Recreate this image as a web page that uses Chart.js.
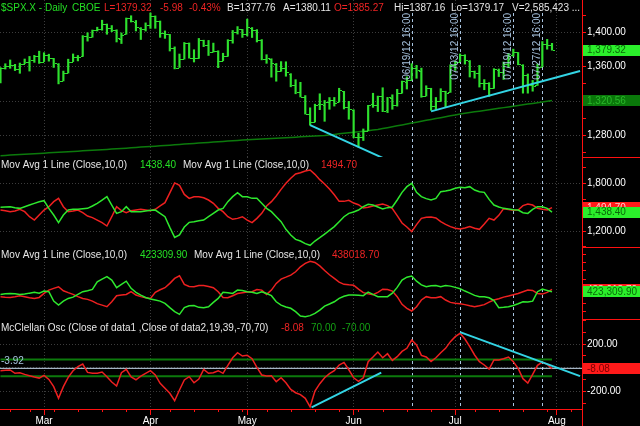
<!DOCTYPE html>
<html>
<head>
<meta charset="utf-8">
<script src="https://cdn.jsdelivr.net/npm/chart.js@4.4.1/dist/chart.umd.min.js"></script>
<style>
  html, body { margin: 0; padding: 0; background: #000; }
  #wrap { position: relative; width: 640px; height: 426px; background: #000; overflow: hidden; }
  .pane { position: absolute; left: 0; width: 640px; }
</style>
</head>
<body>
<div id="wrap">
  <div class="pane" style="top:0;height:157px"><canvas id="pricePane"></canvas></div>
  <div class="pane" style="top:157px;height:90px"><canvas id="issuesPane"></canvas></div>
  <div class="pane" style="top:247px;height:72px"><canvas id="volumePane"></canvas></div>
  <div class="pane" style="top:319px;height:107px"><canvas id="oscPane"></canvas></div>
</div>
<script>
// trading days shown (2012)
const dates = ['02/16','02/17','02/21','02/22','02/23','02/24','02/27','02/28','02/29',
  '03/01','03/02','03/05','03/06','03/07','03/08','03/09','03/12','03/13','03/14','03/15','03/16','03/19','03/20','03/21','03/22','03/23','03/26','03/27','03/28','03/29','03/30',
  '04/02','04/03','04/04','04/05','04/09','04/10','04/11','04/12','04/13','04/16','04/17','04/18','04/19','04/20','04/23','04/24','04/25','04/26','04/27','04/30',
  '05/01','05/02','05/03','05/04','05/07','05/08','05/09','05/10','05/11','05/14','05/15','05/16','05/17','05/18','05/21','05/22','05/23','05/24','05/25','05/29','05/30','05/31',
  '06/01','06/04','06/05','06/06','06/07','06/08','06/11','06/12','06/13','06/14','06/15','06/18','06/19','06/20','06/21','06/22','06/25','06/26','06/27','06/28','06/29',
  '07/02','07/03','07/05','07/06','07/09','07/10','07/11','07/12','07/13','07/16','07/17','07/18','07/19','07/20','07/23','07/24','07/25','07/26','07/27','07/30','07/31'];

const monthLabels = ['Mar', 'Apr', 'May', 'Jun', 'Jul', 'Aug'];
const monthTickIdx = [9, 31, 51, 73, 94, 115];
const weekTickIdx = [2, 6, 11, 16, 21, 26, 35, 40, 45, 50, 55, 60, 65, 70, 74, 79, 84, 89, 98, 103, 108, 113, 118];

const markerDates = ['06/19', '07/03', '07/19', '07/27'];
const markerLabels = ['06/19/12 16:00', '07/03/12 16:00', '07/19/12 16:00', '07/27/12 16:00'];

// $SPX.X daily bars
const opens = [1342.6,1358.1,1361.2,1362.1,1357.5,1363.5,1365.2,1367.6,1372.2,1365.9,
  1374.1,1369.6,1363.6,1343.4,1352.6,1365.9,1370.8,1371.9,1395.9,1394.2,
  1402.6,1404.2,1409.6,1405.5,1402.9,1392.3,1397.7,1416.6,1412.5,1405.4,
  1403.3,1408.5,1418.9,1413.1,1398.8,1397.5,1382.2,1359.0,1368.8,1387.6,
  1370.3,1369.6,1390.8,1385.1,1376.9,1378.5,1366.9,1372.1,1390.6,1400.2,
  1403.3,1397.9,1405.5,1402.3,1391.5,1368.8,1369.2,1363.2,1354.6,1358.1,
  1351.9,1338.4,1330.8,1324.8,1305.1,1295.7,1316.1,1316.0,1318.7,1320.8,
  1318.9,1331.3,1313.1,1309.9,1278.3,1277.8,1285.6,1316.2,1315.0,1325.7,
  1309.4,1324.0,1314.9,1329.2,1342.4,1344.8,1358.0,1355.4,1325.9,1334.9,
  1314.1,1320.1,1331.5,1330.1,1362.3,1365.8,1373.7,1367.1,1354.7,1353.0,
  1341.4,1341.4,1334.8,1356.5,1353.7,1363.5,1373.0,1376.5,1362.3,1350.5,
  1338.4,1338.2,1360.1,1385.9,1385.27];
const highs = [1359.0,1363.4,1367.8,1362.7,1364.2,1368.9,1371.9,1373.1,1378.0,1376.2,
  1374.5,1369.6,1363.6,1354.9,1368.7,1374.8,1373.0,1396.1,1399.4,1402.6,
  1405.9,1414.0,1409.6,1407.8,1402.9,1399.2,1416.6,1419.2,1413.7,1405.4,
  1410.9,1422.4,1419.0,1413.1,1401.6,1397.5,1383.0,1374.7,1388.1,1387.6,
  1379.7,1392.8,1390.8,1390.5,1387.4,1378.5,1375.6,1391.4,1402.1,1406.6,
  1403.3,1415.3,1405.5,1403.1,1391.5,1373.9,1369.2,1363.7,1365.9,1365.7,
  1351.9,1344.9,1341.8,1326.4,1312.2,1316.4,1328.5,1320.7,1324.1,1324.2,
  1334.9,1331.3,1319.7,1309.9,1282.6,1287.6,1315.1,1329.1,1325.8,1335.5,
  1324.3,1327.3,1333.7,1343.3,1348.2,1363.5,1361.6,1358.3,1337.8,1334.9,
  1324.2,1334.4,1331.5,1362.2,1366.4,1374.8,1373.9,1367.1,1354.9,1361.5,
  1345.0,1341.4,1357.7,1357.3,1365.4,1375.3,1380.4,1376.5,1362.3,1351.5,
  1344.0,1363.1,1389.2,1391.7,1387.16];
const lows = [1341.2,1357.2,1358.1,1355.5,1352.3,1363.5,1354.9,1365.0,1363.8,1365.9,
  1366.4,1359.1,1340.0,1343.4,1352.6,1365.9,1366.7,1371.9,1389.7,1394.2,
  1401.5,1402.4,1397.7,1400.6,1388.7,1386.9,1397.7,1411.9,1401.5,1391.6,
  1401.4,1404.5,1404.6,1394.1,1392.9,1378.2,1357.4,1359.0,1368.8,1369.9,
  1365.4,1369.6,1383.3,1373.0,1376.9,1358.8,1366.8,1372.1,1387.3,1397.9,
  1394.0,1395.7,1393.9,1388.7,1367.9,1363.9,1347.8,1343.1,1354.6,1348.9,
  1336.6,1328.5,1324.8,1304.9,1292.0,1295.7,1310.0,1296.5,1310.5,1314.2,
  1318.9,1310.8,1298.9,1277.3,1266.7,1274.2,1285.6,1312.7,1307.8,1307.7,
  1306.6,1310.5,1314.1,1329.2,1334.0,1344.8,1346.5,1324.4,1325.9,1309.3,
  1310.3,1320.1,1313.3,1330.1,1355.7,1365.8,1363.0,1348.0,1346.6,1336.3,
  1333.2,1325.4,1334.8,1348.5,1345.1,1359.0,1372.1,1362.2,1329.2,1329.2,
  1331.5,1338.2,1360.1,1380.3,1379.17];
const closes = [1358.04,1361.23,1362.21,1357.66,1363.46,1365.74,1367.59,1372.18,1365.68,1374.09,
  1369.63,1364.33,1343.36,1352.63,1365.91,1370.87,1371.09,1395.95,1394.28,1402.60,
  1404.17,1409.75,1405.52,1402.89,1392.78,1397.11,1416.51,1412.52,1405.54,1403.28,
  1408.47,1419.04,1413.38,1398.96,1398.08,1382.20,1358.59,1368.71,1387.57,1370.26,
  1369.57,1390.78,1385.14,1376.92,1378.53,1366.94,1371.97,1390.69,1399.98,1403.36,
  1397.91,1405.82,1402.31,1391.57,1369.10,1369.58,1363.72,1354.58,1357.99,1353.39,
  1338.35,1330.66,1324.80,1304.86,1295.22,1315.99,1316.63,1318.86,1320.68,1317.82,
  1332.42,1313.32,1310.33,1278.04,1278.18,1285.50,1315.13,1314.99,1325.66,1308.93,
  1324.18,1314.88,1329.10,1342.84,1344.78,1357.98,1355.69,1325.51,1335.02,1313.72,
  1319.99,1331.85,1329.04,1362.16,1365.51,1374.02,1367.58,1354.68,1352.46,1341.47,
  1341.45,1334.76,1356.78,1353.64,1363.67,1372.78,1376.51,1362.66,1350.52,1338.31,
  1337.89,1360.02,1385.97,1385.30,1379.32];
const quote = { bid: 1377.76, ask: 1380.11, volume: '2,585,423' };

// long moving average on the price pane
const longAvg = [1256.5,1256.8,1257.2,1257.5,1257.8,1258.2,1258.5,1258.8,1259.2,1259.5,
  1259.8,1260.2,1260.5,1260.8,1261.2,1261.5,1261.8,1262.2,1262.5,1262.8,
  1263.2,1263.5,1263.8,1264.2,1264.5,1264.9,1265.3,1265.7,1266.1,1266.5,
  1266.8,1267.2,1267.6,1268.0,1268.4,1268.8,1269.2,1269.6,1270.0,1270.4,
  1270.8,1271.2,1271.5,1271.9,1272.3,1272.7,1273.1,1273.5,1273.9,1274.3,
  1274.7,1275.0,1275.3,1275.6,1275.9,1276.2,1276.6,1276.9,1277.2,1277.5,
  1277.8,1278.1,1278.4,1278.8,1279.1,1279.4,1279.7,1280.0,1280.6,1281.2,
  1281.9,1282.5,1283.1,1283.7,1284.4,1285.0,1285.6,1286.3,1287.0,1288.0,
  1289.1,1290.1,1291.2,1292.3,1293.3,1294.4,1295.4,1296.5,1297.6,1298.6,
  1299.7,1300.7,1301.8,1302.9,1303.9,1305.0,1305.8,1306.6,1307.5,1308.3,
  1309.1,1309.9,1310.7,1311.6,1312.4,1313.2,1314.0,1314.8,1315.6,1316.5,
  1317.3,1318.1,1318.9,1319.7,1320.56];

// trend lines drawn on the chart: [bar index, value]
const priceTrendA = [[64, 1292], [79, 1254]];
const priceTrendB = [[89, 1308], [119.8, 1355]];
const oscTrendA = [[64.3, -332], [78.7, -41]];
const oscTrendB = [[95, 300], [119.8, -70]];

// Mov Avg 1 Line (Close,10,0) - issues
const issuesUp = [1498,1502,1506,1494,1485,1506,1527,1548,1569,1582,
  1485,1401,1305,1401,1464,1473,1473,1481,1485,1515,
  1548,1590,1632,1527,1422,1443,1506,1443,1443,1443,
  1452,1460,1464,1422,1380,1246,1120,1150,1250,1309,
  1317,1330,1338,1380,1422,1464,1485,1569,1632,1682,
  1632,1632,1611,1611,1548,1485,1443,1380,1317,1221,
  1150,1095,1074,1041,1020,1074,1116,1162,1208,1255,
  1317,1380,1422,1439,1464,1506,1536,1527,1502,1477,
  1494,1502,1590,1686,1758,1800,1686,1632,1607,1590,
  1611,1695,1703,1716,1737,1749,1745,1758,1716,1695,
  1686,1598,1527,1502,1485,1477,1468,1464,1431,1422,
  1473,1506,1506,1485,1438.40];
const issuesDown = [1464,1456,1443,1452,1473,1443,1380,1338,1401,1464,
  1506,1569,1611,1506,1443,1452,1464,1431,1389,1368,
  1338,1305,1263,1380,1506,1456,1431,1456,1464,1473,
  1464,1456,1473,1515,1557,1680,1805,1775,1660,1611,
  1632,1632,1619,1590,1548,1485,1443,1380,1347,1359,
  1380,1338,1305,1359,1422,1515,1569,1640,1724,1800,
  1863,1917,1934,1955,1967,1913,1846,1791,1728,1657,
  1573,1573,1586,1552,1531,1489,1498,1515,1527,1540,
  1519,1481,1393,1301,1250,1192,1280,1359,1372,1376,
  1364,1317,1284,1255,1234,1225,1238,1255,1234,1221,
  1288,1359,1338,1397,1481,1469,1460,1464,1519,1540,
  1527,1485,1473,1464,1494.70];

// Mov Avg 1 Line (Close,10,0) - volume, in thousands
const volumeUpK = [406,410,412,410,406,408,414,419,414,427,
  423,364,339,364,381,389,406,423,429,437,
  485,502,517,496,448,469,489,444,419,402,
  387,377,371,364,350,323,298,281,323,335,
  337,325,323,329,356,381,419,417,412,433,
  431,423,419,412,423,412,398,360,339,327,
  319,298,271,266,273,287,308,333,346,360,
  381,394,402,402,400,398,421,406,392,392,
  392,414,450,496,514,521,489,466,454,460,
  462,454,462,458,450,442,427,414,400,392,
  392,385,368,323,325,329,337,348,360,358,
  364,423,439,431,423.3099];
const volumeDownK = [392,389,387,392,398,392,385,381,387,412,
  433,444,454,429,417,406,392,381,375,364,
  348,339,329,360,398,402,406,423,402,392,
  385,381,419,435,448,475,506,523,469,456,
  454,462,462,456,448,423,387,385,398,412,
  417,421,423,437,433,406,433,475,502,514,
  527,548,579,600,614,606,585,556,529,506,
  483,469,466,464,439,417,410,404,419,439,
  437,427,392,344,319,302,329,371,392,385,
  385,392,371,356,350,348,342,335,329,335,
  342,358,371,379,389,396,404,412,423,433,
  431,412,408,419,438.0187];

// McClellan Osc (Close of data1 ,Close of data2,19,39,-70,70)
const mcclellan = [-24,-21,-18,-46,-41,-55,-66,-77,-86,-63,
  -97,-158,-256,-158,-80,-24,10,32,-38,-46,
  -46,-35,-74,-119,-153,-41,-13,-77,-100,-69,
  -46,-24,-60,-130,-172,-214,-276,-186,-102,-74,
  -125,-94,-13,-46,-41,-24,-46,21,85,127,
  99,105,77,4,-60,-69,-66,-116,-83,-125,
  -181,-209,-225,-256,-327,-195,-133,-83,-49,-24,
  24,46,-16,-83,-114,-83,52,91,133,85,
  119,63,94,138,164,234,192,105,91,54,
  85,127,164,220,262,290,242,178,108,52,
  24,-10,66,66,77,91,52,-4,-91,-128,
  -55,21,49,29,-8.08];
const oscBands = [70, -70];
const oscRefLine = -3.92;

// tick labels shown on the right axes
const priceTicks = [1400, 1360, 1320, 1280];
const issuesTicks = [1800, 1200];
const volumeTicksK = [500, 350];
const oscTicks = [200, 0, -200];

const BAR = '#2ee02e', GREEN = '#2ee82e', RED = '#ee2020', DKGREEN = '#0c7a0c';
const CYAN = '#33d4e4', MARK = '#a8c4e0', AXIS_RED = '#ff1010', GRID = '#3c3c3c';
const TXT_G = '#25e025', TXT_R = '#ee2424', TXT_W = '#e6e6e6';
const X_MIN = -0.1, X_MAX = 120.2;

Chart.defaults.font.family = "'Liberation Sans', Arial, sans-serif";
Chart.defaults.font.size = 10;
Chart.defaults.color = '#ffffff';

const money = v => v.toLocaleString('en-US', { minimumFractionDigits: 2, maximumFractionDigits: 2 });
const series = arr => arr.map((v, i) => ({ x: i, y: v }));
const segment = pairs => pairs.map(p => ({ x: p[0], y: p[1] }));
const lineSet = (data, color, width) => ({ data, borderColor: color, borderWidth: width, pointRadius: 0, tension: 0, fill: false });

// everything the library has no element for: markers, bar ticks, value boxes, headers
const overlay = {
  id: 'overlay',
  beforeDatasetsDraw(chart, args, o) {
    const { ctx, chartArea: a } = chart, xs = chart.scales.x;
    ctx.save();
    ctx.strokeStyle = MARK;
    ctx.lineWidth = 1;
    ctx.setLineDash([3, 3]);
    markerDates.forEach(d => {
      const px = Math.round(xs.getPixelForValue(dates.indexOf(d))) + 0.5;
      ctx.beginPath();
      ctx.moveTo(px, a.top + (o.markTop || 0));
      ctx.lineTo(px, a.bottom);
      ctx.stroke();
    });
    ctx.restore();
  },
  afterDatasetsDraw(chart, args, o) {
    if (!o.ohlc) return;
    const { ctx } = chart, xs = chart.scales.x, ys = chart.scales.y;
    ctx.save();
    ctx.strokeStyle = BAR;
    ctx.lineWidth = 1;
    closes.forEach((c, i) => {
      const px = Math.round(xs.getPixelForValue(i));
      const yo = Math.round(ys.getPixelForValue(opens[i])) + 0.5;
      const yc = Math.round(ys.getPixelForValue(c)) + 0.5;
      ctx.beginPath();
      ctx.moveTo(px - 2, yo); ctx.lineTo(px, yo);
      ctx.moveTo(px + 1, yc); ctx.lineTo(px + 3, yc);
      ctx.stroke();
    });
    ctx.restore();
  },
  afterDraw(chart, args, o) {
    const { ctx, chartArea: a, width, height } = chart;
    const xs = chart.scales.x, ys = chart.scales.y;
    ctx.save();
    ctx.strokeStyle = AXIS_RED;
    ctx.lineWidth = 1;
    if (o.sepTop) {
      ctx.beginPath(); ctx.moveTo(a.right, 0.5); ctx.lineTo(width, 0.5); ctx.stroke();
    }
    if (o.weekTicks) {
      ctx.beginPath();
      weekTickIdx.forEach(i => {
        const px = Math.round(xs.getPixelForValue(i)) + 0.5;
        ctx.moveTo(px, a.bottom); ctx.lineTo(px, a.bottom + 3);
      });
      const rx = Math.round(a.right) + 0.5;
      ctx.moveTo(rx, a.bottom); ctx.lineTo(rx, height);
      ctx.stroke();
    }
    ctx.font = "10px 'Liberation Sans', Arial, sans-serif";
    ctx.textAlign = 'left';
    (o.boxes || []).forEach(b => {
      const y = ys.getPixelForValue(b.value);
      ctx.fillStyle = b.bg;
      ctx.fillRect(Math.round(a.right) + 1, Math.round(y - 5.5), width - a.right, 11);
      ctx.fillStyle = b.fg;
      ctx.textBaseline = 'middle';
      ctx.fillText(money(b.value * (o.unit || 1)), a.right + 5, y + 0.5);
    });
    ctx.textBaseline = 'alphabetic';
    (o.header || []).forEach(h => {
      ctx.fillStyle = h.color;
      ctx.fillText(h.text, h.x, o.headerY);
    });
    if (o.refLabel) {
      ctx.fillStyle = MARK;
      ctx.fillText(o.refLabel.toFixed(2), 1, ys.getPixelForValue(o.refLabel) - 4);
    }
    if (o.markLabels) {
      ctx.fillStyle = MARK;
      ctx.textAlign = 'right';
      markerDates.forEach((d, k) => {
        const px = Math.round(xs.getPixelForValue(dates.indexOf(d)));
        ctx.save();
        ctx.translate(px - 2, o.markTop);
        ctx.rotate(-Math.PI / 2);
        ctx.fillText(markerLabels[k], 0, 0);
        ctx.restore();
      });
    }
    ctx.restore();
  }
};

function timeAxis(show) {
  return {
    type: 'linear', min: X_MIN, max: X_MAX, offset: false,
    afterBuildTicks: s => { s.ticks = monthTickIdx.map(v => ({ value: v })); },
    afterFit: s => { s.height = show ? 17 : 0; s.paddingLeft = 0; s.paddingRight = 0; },
    border: { display: show, color: AXIS_RED, width: 1, dash: [1, 2] },
    grid: { offset: false, color: GRID, lineWidth: 1, drawTicks: show, tickColor: AXIS_RED, tickLength: 6 },
    ticks: {
      display: show, color: '#ffffff', padding: 0, maxRotation: 0, autoSkip: false,
      callback: v => monthLabels[monthTickIdx.indexOf(v)]
    }
  };
}

function valueAxis(min, max, step, labelled, unit) {
  return {
    position: 'right', min, max,
    afterFit: s => { s.width = 58; s.paddingTop = 0; s.paddingBottom = 0; },
    border: { color: AXIS_RED, width: 1, dash: [1, 2] },
    grid: {
      color: c => (c.tick && labelled.includes(c.tick.value) ? GRID : 'rgba(0,0,0,0)'),
      tickColor: AXIS_RED, tickLength: 4
    },
    ticks: {
      stepSize: step, includeBounds: false, autoSkip: false, padding: 1, color: '#ffffff',
      callback: v => (labelled.includes(v) ? money(v * unit) : '')
    }
  };
}

function makePane(id, datasets, x, y, overlayOpts) {
  return new Chart(document.getElementById(id), {
    type: 'line',
    data: { datasets },
    options: {
      responsive: true, maintainAspectRatio: false, animation: false, events: [],
      layout: { padding: 0 },
      plugins: { legend: { display: false }, tooltip: { enabled: false }, overlay: overlayOpts },
      scales: { x, y }
    },
    plugins: [overlay]
  });
}

const last = closes.length - 1;
const change = closes[last] - closes[last - 1];

// Price pane
makePane('pricePane', [
  lineSet(segment(priceTrendA), CYAN, 2),
  lineSet(segment(priceTrendB), CYAN, 2),
  {
    type: 'bar', data: closes.map((c, i) => ({ x: i, y: [lows[i], highs[i]] })),
    backgroundColor: BAR, borderWidth: 0, barThickness: 1.5, grouped: false
  },
  lineSet(series(longAvg), DKGREEN, 1.5)
], timeAxis(false), valueAxis(1255, 1437.5, 20, priceTicks, 1), {
  ohlc: true, markTop: 13, markLabels: true, headerY: 10.5,
  boxes: [
    { value: longAvg[last], bg: '#0a780a', fg: '#2ab82a' },
    { value: closes[last], bg: '#2bef2b', fg: '#0a6a0a' }
  ],
  header: [
    { x: 1, text: '$SPX.X - Daily', color: TXT_G },
    { x: 72, text: 'CBOE', color: TXT_G },
    { x: 104, text: 'L=' + closes[last].toFixed(2), color: TXT_R },
    { x: 160, text: change.toFixed(2), color: TXT_R },
    { x: 189, text: (change / closes[last - 1] * 100).toFixed(2) + '%', color: TXT_R },
    { x: 227, text: 'B=' + quote.bid.toFixed(2), color: TXT_W },
    { x: 283, text: 'A=' + quote.ask.toFixed(2), color: TXT_W },
    { x: 334, text: 'O=' + opens[last].toFixed(2), color: TXT_R },
    { x: 394, text: 'Hi=' + highs[last].toFixed(2), color: TXT_W },
    { x: 451, text: 'Lo=' + lows[last].toFixed(2), color: TXT_W },
    { x: 512, text: 'V=' + quote.volume + ' ...', color: TXT_W }
  ]
});

// Issues pane
makePane('issuesPane', [
  lineSet(series(issuesUp), GREEN, 1.5),
  lineSet(series(issuesDown), RED, 1.5)
], timeAxis(false), valueAxis(999, 2131, 200, issuesTicks, 1), {
  sepTop: true, headerY: 10.5,
  boxes: [
    { value: issuesDown[last], bg: '#ff1a1a', fg: '#ffd0d0' },
    { value: issuesUp[last], bg: '#2bef2b', fg: '#0a6a0a' }
  ],
  header: [
    { x: 1, text: 'Mov Avg 1 Line (Close,10,0)', color: TXT_W },
    { x: 140, text: issuesUp[last].toFixed(2), color: TXT_G },
    { x: 183, text: 'Mov Avg 1 Line (Close,10,0)', color: TXT_W },
    { x: 321, text: issuesDown[last].toFixed(2), color: TXT_R }
  ]
});

// Volume pane
makePane('volumePane', [
  lineSet(series(volumeUpK), GREEN, 1.5),
  lineSet(series(volumeDownK), RED, 1.5)
], timeAxis(false), valueAxis(252, 703, 50, volumeTicksK, 1000), {
  sepTop: true, headerY: 11, unit: 1000,
  boxes: [
    { value: volumeDownK[last], bg: '#ff1a1a', fg: '#ffd0d0' },
    { value: volumeUpK[last], bg: '#2bef2b', fg: '#0a6a0a' }
  ],
  header: [
    { x: 1, text: 'Mov Avg 1 Line (Close,10,0)', color: TXT_W },
    { x: 140, text: (volumeUpK[last] * 1000).toFixed(2), color: TXT_G },
    { x: 194, text: 'Mov Avg 1 Line (Close,10,0)', color: TXT_W },
    { x: 332, text: (volumeDownK[last] * 1000).toFixed(2), color: TXT_R }
  ]
});

// McClellan pane
makePane('oscPane', [
  lineSet(segment(oscTrendA), CYAN, 2),
  lineSet(segment(oscTrendB), CYAN, 2),
  lineSet(series(mcclellan), RED, 1.5),
  lineSet([{ x: X_MIN, y: oscRefLine }, { x: X_MAX, y: oscRefLine }], '#c8dcf0', 1),
  lineSet([{ x: 0, y: oscBands[0] }, { x: last, y: oscBands[0] }], DKGREEN, 2),
  lineSet([{ x: 0, y: oscBands[1] }, { x: last, y: oscBands[1] }], DKGREEN, 2)
], timeAxis(true), valueAxis(-345.8, 410.5, 100, oscTicks, 1), {
  sepTop: true, weekTicks: true, headerY: 11.5, refLabel: oscRefLine,
  boxes: [{ value: mcclellan[last], bg: '#ff1a1a', fg: '#7a0000' }],
  header: [
    { x: 1, text: 'McClellan Osc (Close of data1 ,Close of data2,19,39,-70,70)', color: TXT_W },
    { x: 281, text: mcclellan[last].toFixed(2), color: TXT_R },
    { x: 311, text: oscBands[0].toFixed(2), color: '#14a014' },
    { x: 342, text: oscBands[1].toFixed(2), color: '#14a014' }
  ]
});
</script>
</body>
</html>
